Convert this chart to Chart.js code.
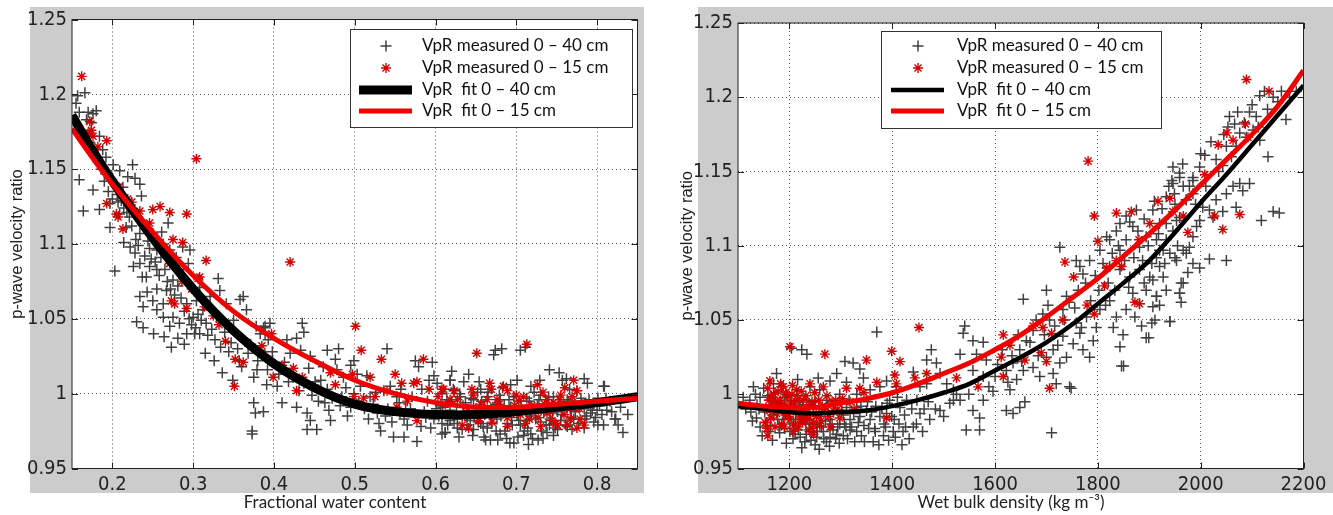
<!DOCTYPE html>
<html lang="en">
<head>
<meta charset="UTF-8">
<title>VpR vs water content and bulk density</title>
<script src="https://cdn.jsdelivr.net/npm/chart.js@4.4.1/dist/chart.umd.min.js"></script>
<style>
  html, body { margin: 0; padding: 0; background: #fff; }
  .panel { position: absolute; top: 0; }
</style>
</head>
<body>
<div class="panel" style="left:0"><canvas id="wcChart" width="666" height="515"></canvas></div>
<div class="panel" style="left:666px"><canvas id="dnChart" width="667" height="515"></canvas></div>

<script>
// shared axis ticks
const vTicks = [0.95, 1, 1.05, 1.1, 1.15, 1.2, 1.25];
const wcTicks = [0.2, 0.3, 0.4, 0.5, 0.6, 0.7, 0.8];
const dnTicks = [1200, 1400, 1600, 1800, 2000, 2200];

// left panel: fractional water content
const wcGray40 = [
  [0.157,1.199],[0.166,1.201],[0.155,1.194],[0.159,1.188],[0.170,1.188],[0.176,1.187],[0.180,1.189],[0.168,1.183],[0.174,1.181],
  [0.159,1.143],[0.164,1.122],[0.176,1.136],[0.184,1.123],[0.197,1.127],[0.188,1.163],[0.192,1.158],[0.184,1.172],[0.201,1.153],
  [0.209,1.149],[0.225,1.153],[0.219,1.145],[0.213,1.138],[0.228,1.144],[0.236,1.132],[0.234,1.140],[0.205,1.140],[0.197,1.111],
  [0.203,1.082],[0.209,1.120],[0.221,1.118],[0.217,1.111],[0.234,1.107],[0.228,1.094],[0.226,1.085],[0.234,1.087],[0.246,1.085],
  [0.242,1.078],[0.250,1.107],[0.261,1.108],[0.263,1.100],[0.269,1.114],[0.271,1.096],[0.255,1.096],[0.246,1.097],[0.255,1.083],
  [0.234,1.065],[0.238,1.058],[0.250,1.062],[0.255,1.056],[0.263,1.060],[0.267,1.069],[0.275,1.076],[0.283,1.083],[0.279,1.091],
  [0.287,1.098],[0.296,1.096],[0.294,1.087],[0.263,1.051],[0.271,1.045],[0.275,1.051],[0.283,1.047],[0.292,1.060],[0.300,1.051],
  [0.304,1.062],[0.308,1.071],[0.312,1.056],[0.292,1.040],[0.308,1.040],[0.316,1.047],[0.329,1.051],[0.321,1.065],[0.333,1.069],
  [0.331,1.077],[0.341,1.060],[0.350,1.049],[0.358,1.063],[0.362,1.065],[0.366,1.056],[0.378,1.045],[0.389,1.045],[0.395,1.047],
  [0.383,1.040],[0.289,1.033],[0.315,1.027],[0.326,1.022],[0.336,1.014],[0.349,1.009],[0.360,1.018],[0.368,1.027],[0.273,1.031],
  [0.302,1.040],[0.373,0.973],[0.801,0.979],[0.822,0.983],[0.809,1.005],[0.801,0.997],
  [0.162,1.176],[0.172,1.168],[0.178,1.160],[0.186,1.150],[0.190,1.142],[0.195,1.135],[0.200,1.130],[0.207,1.128],[0.214,1.124],
  [0.222,1.126],[0.182,1.155],[0.168,1.172],
  [0.206,1.133],[0.211,1.129],[0.218,1.121],[0.224,1.112],[0.229,1.103],[0.232,1.099],[0.240,1.092],[0.244,1.102],[0.248,1.090],
  [0.253,1.088],[0.258,1.079],[0.260,1.091],[0.265,1.083],[0.268,1.075],[0.272,1.070],[0.277,1.066],[0.281,1.072],[0.285,1.064],
  [0.289,1.055],[0.295,1.050],[0.298,1.046],[0.303,1.044],[0.306,1.053],[0.310,1.049],[0.318,1.039],[0.323,1.043],[0.327,1.036],
  [0.334,1.031],[0.339,1.041],[0.344,1.028],[0.347,1.034],[0.355,1.030],[0.357,1.022],[0.364,1.035],[0.371,1.033],[0.380,1.022],
  [0.392,1.016],[0.398,1.028],[0.406,1.013],[0.413,1.021],[0.418,1.008],[0.431,1.002],[0.447,0.999],[0.458,1.009],[0.463,0.994],
  [0.472,0.997],[0.482,0.992],[0.491,0.985],[0.505,0.995],[0.517,0.983],[0.526,1.001],[0.538,0.985],[0.546,0.981],[0.555,0.994],
  [0.563,0.990],[0.582,0.978],[0.588,0.984],[0.594,0.977],[0.601,0.990],[0.255,1.070],[0.243,1.068],[0.237,1.078],[0.222,1.098],
  [0.214,1.101],[0.230,1.048],[0.238,1.044],[0.251,1.040],[0.264,1.038],[0.281,1.037],
  [0.375,1.011],[0.375,0.994],[0.377,0.987],[0.387,0.988],[0.373,0.975],[0.387,1.044],[0.389,1.040],[0.393,1.036],[0.383,1.029],
  [0.389,1.025],[0.379,1.016],[0.391,1.006],[0.404,1.005],[0.410,0.994],[0.416,1.036],[0.428,1.037],[0.435,1.047],[0.437,1.041],
  [0.420,1.027],[0.433,1.029],[0.445,1.025],[0.443,1.017],[0.424,1.011],[0.437,1.007],[0.451,1.008],[0.428,0.991],[0.441,0.987],
  [0.445,0.982],[0.441,0.976],[0.453,0.976],[0.466,1.029],[0.461,1.018],[0.468,0.989],[0.470,0.982],[0.480,1.030],[0.476,1.023],
  [0.478,1.016],[0.486,1.011],[0.495,1.019],[0.499,1.022],[0.484,0.998],[0.495,0.991],[0.507,1.005],[0.499,1.000],[0.519,0.998],
  [0.528,0.987],[0.530,0.980],[0.532,0.975],[0.540,1.030],[0.536,1.002],[0.544,1.005],[0.552,0.998],[0.548,0.971],[0.561,0.971],
  [0.565,0.979],[0.561,0.983],[0.577,0.968],[0.575,1.022],[0.579,1.018],[0.596,1.021],[0.598,1.012],[0.592,1.009],[0.602,1.007],
  [0.608,1.000],[0.618,1.009],[0.623,1.002],[0.583,1.003],[0.598,0.983],[0.608,0.980],[0.618,0.982],[0.627,0.977],[0.612,0.974],
  [0.512,0.990],[0.523,0.993],[0.541,0.990],[0.556,0.987],[0.569,0.990],[0.586,0.988],[0.590,0.995],[0.571,0.998],[0.557,1.003],
  [0.515,1.012],[0.466,1.003],[0.455,0.995],[0.489,1.004],[0.503,1.013],
  [0.674,1.029],[0.682,1.030],[0.672,1.026],[0.705,1.029],[0.711,1.031],[0.641,1.013],[0.618,1.009],[0.635,1.008],[0.656,1.003],
  [0.701,1.009],[0.718,1.005],[0.753,1.014],[0.757,1.009],[0.784,1.010],[0.788,1.007],[0.808,1.005],[0.775,1.002],
  [0.612,0.974],[0.629,0.971],[0.647,0.976],[0.660,0.971],[0.668,0.969],[0.680,0.973],[0.697,0.967],[0.709,0.972],[0.718,0.973],
  [0.738,0.974],[0.751,0.976],[0.763,0.978],[0.784,0.977],[0.796,0.981],[0.808,0.979],[0.823,0.983],[0.623,0.980],[0.639,0.979],
  [0.656,0.980],[0.689,0.980],[0.705,0.979],[0.730,0.981],[0.771,0.983],[0.792,0.987],[0.800,0.989],[0.608,0.973],
  [0.614,0.996],[0.631,0.998],[0.647,0.996],[0.664,0.998],[0.680,0.996],[0.697,0.998],[0.713,0.997],[0.730,0.999],[0.746,0.998],
  [0.763,0.996],[0.780,0.997],[0.796,0.993],[0.618,0.989],[0.635,0.987],[0.651,0.988],[0.668,0.986],[0.684,0.987],[0.701,0.986],
  [0.718,0.988],[0.734,0.987],[0.751,0.988],[0.767,0.989],[0.784,0.990],[0.812,0.989],[0.627,0.983],[0.643,0.982],[0.676,0.983],
  [0.713,0.982],[0.742,0.983],[0.755,0.982],[0.660,0.992],[0.693,0.991],[0.726,0.992],[0.759,0.992],
  [0.622,1.003],[0.652,1.001],[0.683,1.004],[0.722,1.001],[0.766,1.003],[0.606,0.992],[0.637,0.994],[0.674,0.993],[0.716,0.995],
  [0.744,0.993],[0.772,0.994],[0.787,0.985],[0.633,0.976],[0.659,0.978],[0.686,0.975],[0.714,0.977],[0.741,0.979],[0.769,0.976],
  [0.694,0.984],[0.719,0.985],[0.648,0.985],[0.664,0.977],[0.677,0.969],[0.702,0.971],[0.727,0.969],[0.746,0.972],[0.816,0.995],
  [0.829,0.991],[0.838,0.986],
  [0.604,0.985],[0.609,0.991],[0.615,0.979],[0.620,0.995],[0.626,0.988],[0.630,1.000],[0.634,0.992],[0.639,0.985],[0.644,0.997],
  [0.646,0.972],[0.650,0.990],[0.653,0.981],[0.657,0.995],[0.661,0.986],[0.665,1.001],[0.669,0.980],[0.671,0.991],[0.675,0.975],
  [0.679,0.999],[0.681,0.985],[0.685,0.992],[0.688,0.970],[0.691,0.996],[0.695,0.979],[0.699,0.989],[0.703,0.982],[0.706,0.995],
  [0.710,0.975],[0.712,0.988],[0.717,0.992],[0.720,0.970],[0.724,0.983],[0.728,0.996],[0.731,0.975],[0.735,0.990],[0.737,0.979],
  [0.740,0.998],[0.745,0.987],[0.748,0.977],[0.752,0.992],[0.756,0.986],[0.761,0.979],[0.765,0.995],[0.768,0.984],[0.773,0.988],
  [0.777,0.980],[0.781,0.993],[0.785,0.983],[0.790,0.996],[0.794,0.989],[0.798,0.984],[0.803,0.992],[0.806,0.986],[0.811,0.997],
  [0.818,0.988],[0.826,0.979],[0.832,0.974],[0.662,0.969],[0.692,0.967],[0.715,0.966],[0.733,0.970],[0.654,1.008],[0.693,1.006],
  [0.729,1.009],[0.762,1.010],[0.741,1.016],[0.620,1.015]
];
const wcRed15 = [
  [0.162,1.212],[0.172,1.182],[0.174,1.176],[0.176,1.172],[0.170,1.174],[0.193,1.169],[0.195,1.147],[0.193,1.127],[0.205,1.120],
  [0.207,1.118],[0.213,1.110],[0.219,1.130],[0.234,1.122],[0.250,1.123],[0.259,1.125],[0.271,1.121],[0.292,1.120],[0.304,1.157],
  [0.246,1.114],[0.275,1.103],[0.287,1.101],[0.316,1.089],[0.273,1.062],[0.277,1.060],[0.271,1.087],[0.306,1.077],[0.308,1.078],
  [0.298,1.070],[0.292,1.057],[0.314,1.058],[0.351,1.005],[0.352,1.023],
  [0.420,1.088],[0.501,1.045],[0.508,1.029],[0.533,1.023],[0.585,1.023],[0.550,1.013],[0.397,1.040],[0.385,1.032],[0.387,1.026],
  [0.410,1.019],[0.424,1.017],[0.435,1.011],[0.399,1.011],[0.476,1.006],[0.497,1.013],[0.519,1.011],[0.499,0.998],[0.511,0.997],
  [0.525,0.998],[0.558,1.007],[0.573,1.007],[0.577,1.008],[0.592,1.003],[0.608,1.003],[0.623,1.002],[0.552,0.991],[0.577,0.982],
  [0.651,1.027],[0.713,1.033],[0.667,1.007],[0.669,1.003],[0.610,1.003],[0.647,0.999],[0.689,1.002],[0.726,1.006],[0.755,0.999],
  [0.771,1.009],[0.775,1.002],[0.709,0.998],[0.633,0.979],[0.641,0.977],[0.689,0.978],[0.730,0.978],[0.751,0.979],[0.763,0.979],
  [0.775,0.977],[0.779,0.983],[0.689,0.984],[0.705,0.986],[0.656,0.987],[0.672,0.988],[0.738,0.987],[0.759,0.986],[0.618,0.996],
  [0.656,0.993],[0.676,0.996],[0.738,0.996],[0.771,0.991],[0.640,0.990],[0.698,0.992],[0.722,0.989],[0.746,0.994],[0.664,0.996],
  [0.700,0.999],[0.733,1.001],[0.760,1.004],[0.682,0.990],[0.716,0.983],[0.744,0.982],[0.763,0.990],
  [0.603,0.998],[0.612,0.993],[0.627,0.996],[0.636,0.985],[0.645,1.003],[0.653,0.982],[0.661,0.990],[0.670,0.981],[0.679,0.993],
  [0.684,1.005],[0.693,0.987],[0.703,0.995],[0.711,0.980],[0.719,0.992],[0.727,0.984],[0.735,0.993],[0.742,0.988],[0.749,0.980],
  [0.754,0.996],[0.767,0.983],[0.769,0.998],[0.778,0.990],[0.784,0.979],[0.565,0.995],[0.540,1.002],[0.470,1.014],[0.455,1.003],
  [0.428,1.002],[0.362,1.021],[0.340,1.035],[0.332,1.046],[0.325,1.052],[0.286,1.075],[0.263,1.095],[0.224,1.128],[0.208,1.138],
  [0.182,1.165]
];
const wcFitX = [0.15, 0.175, 0.2, 0.25, 0.3, 0.35, 0.4, 0.45, 0.5, 0.55, 0.6, 0.65, 0.7, 0.75, 0.8, 0.85];
const wcFit40 = [1.186, 1.163, 1.142, 1.104, 1.070, 1.042, 1.020, 1.004, 0.993, 0.988, 0.986, 0.986, 0.988, 0.991, 0.994, 0.998];
const wcFit15 = [1.177, 1.158, 1.140, 1.108, 1.079, 1.055, 1.037, 1.022, 1.009, 1.000, 0.994, 0.991, 0.991, 0.993, 0.995, 0.997];

// right panel: wet bulk density
const dnGray40 = [
  [1110,0.998],[1130,1.005],[1123,0.996],[1136,0.984],[1143,0.978],[1156,0.981],[1165,0.991],[1175,1.014],[1169,1.007],[1185,1.005],
  [1195,1.000],[1201,0.975],[1211,0.973],[1221,0.971],[1230,0.968],[1240,0.975],[1253,0.971],[1266,0.975],[1279,0.971],[1292,0.973],
  [1305,0.972],[1331,0.975],[1363,0.968],[1383,0.972],[1402,0.975],[1421,0.975],[1441,0.978],[1224,1.030],[1234,1.027],[1204,1.031],
  [1279,1.009],[1292,1.014],[1311,1.008],[1308,1.022],[1324,1.021],[1337,1.017],[1344,1.011],[1370,1.042],[1357,1.003],[1376,1.005],
  [1389,1.009],[1408,1.005],[1395,0.996],[1415,0.991],[1428,0.996],[1441,1.015],[1454,1.005],[1467,1.007],[1476,1.030],[1467,1.023],
  [1486,1.021],[1493,1.014],[1506,1.007],[1519,1.003],[1532,1.027],[1538,1.041],[1541,1.046],[1557,1.036],[1577,1.035],[1564,1.027],
  [1583,1.023],[1557,1.016],[1577,1.012],[1532,0.996],[1557,0.989],[1577,0.996],[1570,0.984],[1544,0.976],[1570,0.976],[1493,0.989],
  [1473,0.983],[1454,0.987],[1519,0.996],[1596,1.002],[1600,1.012],
  [1143,0.998],[1162,0.996],[1182,0.994],[1201,0.991],[1221,0.989],[1240,0.987],[1259,0.985],[1279,0.983],[1298,0.980],[1318,0.983],
  [1337,0.985],[1357,0.983],[1376,0.985],[1389,0.987],[1234,0.996],[1272,0.996],[1311,0.991],[1331,0.991],[1350,0.989],[1253,0.978],
  [1285,0.976],[1318,0.976],[1208,0.980],[1188,0.983],[1169,0.986],[1240,1.005],[1259,1.003],[1298,1.000],[1331,1.000],
  [1150,1.004],[1172,1.001],[1190,0.998],[1215,0.999],[1226,0.993],[1247,0.992],[1265,0.990],[1286,0.988],[1305,0.986],[1325,0.987],
  [1345,0.979],[1366,0.977],[1384,0.980],[1404,0.983],[1424,0.986],[1212,0.983],[1232,0.980],[1262,0.978],[1290,0.970],[1310,0.978],
  [1340,0.972],[1250,0.966],[1272,0.968],[1160,0.975],[1180,0.978],[1137,0.993],[1125,0.988],[1196,0.987],[1216,1.010],[1256,1.011],
  [1352,0.995],[1368,0.992],[1390,0.994],[1410,0.998],[1448,0.996],[1462,0.990],
  [1115,0.990],[1128,0.982],[1134,1.000],[1141,0.990],[1147,0.972],[1152,0.988],[1158,0.999],[1163,0.979],[1167,0.969],[1173,0.994],
  [1177,0.983],[1181,0.974],[1186,0.990],[1191,0.977],[1194,0.967],[1199,0.984],[1203,0.996],[1207,0.970],[1213,0.988],[1217,0.976],
  [1220,0.995],[1224,0.964],[1228,0.983],[1233,0.973],[1237,0.990],[1242,0.969],[1245,0.980],[1250,0.995],[1254,0.975],[1258,0.963],
  [1262,0.987],[1267,0.970],[1270,0.982],[1275,0.992],[1278,0.965],[1283,0.980],[1288,0.993],[1294,0.978],[1297,0.967],[1302,0.989],
  [1307,0.980],[1313,0.970],[1316,0.996],[1321,0.978],[1327,0.968],[1334,0.981],[1339,0.992],[1346,0.968],[1354,0.977],[1360,0.988],
  [1367,0.975],[1374,0.966],[1380,0.991],[1387,0.978],[1393,0.969],[1399,0.985],[1406,0.971],[1413,0.980],[1419,0.966],[1426,0.978],
  [1433,0.970],[1438,0.990],[1447,0.980],[1459,0.975],[1470,0.995],[1484,0.990],[1500,0.985],[1512,0.994],[1525,1.000],[1549,1.000],
  [1655,1.064],[1700,1.070],[1726,1.099],[1693,1.054],[1706,1.050],[1674,1.043],[1661,1.036],[1648,1.030],[1635,1.021],[1622,1.016],
  [1629,1.003],[1642,1.010],[1655,1.016],[1674,1.018],[1687,1.012],[1713,1.014],[1726,1.021],[1719,1.007],[1745,1.005],[1739,1.025],
  [1752,1.034],[1765,1.041],[1771,1.030],[1784,1.025],[1791,1.036],[1797,1.045],[1804,1.057],[1778,1.052],[1758,1.048],[1732,1.039],
  [1713,1.030],[1700,1.025],[1622,0.989],[1635,0.987],[1648,0.991],[1658,0.995],[1710,0.974],[1748,1.004],
  [1765,1.086],[1771,1.081],[1758,1.090],[1784,1.090],[1804,1.097],[1817,1.106],[1823,1.104],[1836,1.110],[1843,1.115],[1855,1.120],
  [1862,1.116],[1875,1.124],[1868,1.113],[1855,1.104],[1843,1.097],[1881,1.099],[1894,1.106],[1823,1.086],[1843,1.084],[1862,1.079],
  [1881,1.084],[1901,1.079],[1920,1.086],[1914,1.092],[1927,1.097],[1933,1.104],[1946,1.110],[1959,1.119],[1972,1.131],[1946,1.142],
  [1946,1.153],[1959,1.146],[1985,1.144],[1933,1.133],[1907,1.124],[1920,1.115],[1966,1.097],[1962,1.075],[1959,1.068],[1940,1.049],
  [1894,1.038],[1843,1.032],[1849,1.040],[1830,1.045],[1836,1.052],[1855,1.057],[1881,1.061],[1907,1.059],[1914,1.066],[1933,1.070],
  [1894,1.070],[1868,1.068],[1823,1.063],[1846,1.019],[1732,1.057],[1739,1.066],[1899,1.038],[1911,1.050],[1850,1.019],
  [2115,1.201],[2124,1.204],[2141,1.200],[2157,1.204],[2173,1.200],[2186,1.204],[2166,1.185],[2095,1.190],[2108,1.187],[2056,1.187],
  [2053,1.180],[2066,1.182],[2076,1.176],[2050,1.167],[2069,1.167],[2089,1.173],[2102,1.178],[2115,1.171],[2131,1.160],[2008,1.161],
  [2030,1.158],[2043,1.154],[1998,1.153],[1959,1.149],[1944,1.144],[1966,1.140],[1985,1.146],[1949,1.135],[1972,1.131],[1985,1.135],
  [2004,1.126],[1998,1.117],[2017,1.124],[2030,1.131],[2050,1.135],[2076,1.142],[2095,1.142],[2082,1.137],[2063,1.140],[2069,1.126],
  [2043,1.123],[2024,1.119],[2118,1.117],[2141,1.123],[2153,1.122],[2017,1.091],[2050,1.090],[1998,1.085],[1978,1.099],[1972,1.095],
  [1953,1.090],[1940,1.095],[1920,1.097],[1927,1.079],[1907,1.077],[1966,1.075],[1959,1.068],[1914,1.066],[1920,1.060],[1962,1.062],
  [1940,1.049],[1985,1.106],[1914,1.104],[1992,1.113],[1953,1.117],[1933,1.115],
  [1588,1.005],[1605,1.020],[1614,1.030],[1625,1.008],[1633,1.026],[1645,1.040],[1652,1.022],[1668,1.035],[1680,1.050],[1684,1.026],
  [1696,1.040],[1703,1.060],[1716,1.046],[1722,1.033],[1735,1.050],[1744,1.062],[1755,1.058],[1762,1.070],[1768,1.045],[1776,1.075],
  [1786,1.063],[1795,1.080],[1802,1.070],[1810,1.088],[1815,1.060],[1820,1.075],[1828,1.095],[1833,1.070],[1840,1.100],[1852,1.090],
  [1860,1.072],[1870,1.092],[1878,1.110],[1887,1.090],[1890,1.118],[1898,1.100],[1905,1.088],[1910,1.130],[1918,1.108],[1925,1.125],
  [1930,1.088],[1938,1.140],[1950,1.128],[1955,1.100],[1965,1.155],[1978,1.140],[1990,1.128],[2000,1.162],[2010,1.140],[2020,1.170],
  [2035,1.150],[2045,1.175],[2060,1.160],[2072,1.190],[2085,1.183],[2100,1.195],[2112,1.180],[2130,1.192],[2150,1.197],[1890,1.075],
  [1872,1.052],[1885,1.046],[1905,1.048],[1950,1.092],[1975,1.082],[1985,1.088]
];
const dnRed15 = [
  [1201,1.032],[1269,1.027],[1350,1.023],[1399,1.029],[1415,1.022],[1452,1.045],[1405,1.013],[1370,1.008],[1408,1.007],[1467,1.014],
  [1444,1.011],[1567,1.005],[1525,1.011],[1389,0.984],
  [1162,1.009],[1153,0.981],[1156,0.977],[1169,1.000],[1182,0.996],[1195,0.991],[1208,0.989],[1221,0.986],[1234,0.984],[1247,0.981],
  [1259,0.979],[1175,0.987],[1188,1.005],[1214,1.003],[1240,1.007],[1266,1.005],[1311,1.004],[1337,1.004],[1285,0.989],[1298,0.984],
  [1162,0.989],[1227,0.996],[1201,0.983],[1279,0.978],[1170,0.993],[1185,0.980],[1196,0.998],[1210,0.994],[1218,0.978],[1230,0.990],
  [1244,0.995],[1252,0.987],[1178,1.002],[1205,1.000],[1160,0.996],[1192,0.986],[1225,0.981],[1264,0.992],[1290,0.996],[1238,0.976],
  [1155,0.990],[1158,1.004],[1164,0.984],[1166,0.998],[1172,0.978],[1176,0.995],[1180,0.990],[1183,1.007],[1187,0.993],[1190,0.978],
  [1193,1.001],[1198,0.985],[1202,0.994],[1206,1.006],[1209,0.979],[1213,0.990],[1216,0.997],[1220,0.983],[1223,1.002],[1228,0.987],
  [1232,0.999],[1236,0.983],[1241,0.993],[1245,0.977],[1249,1.001],[1253,0.985],[1257,0.996],[1261,0.982],[1268,0.990],[1273,0.999],
  [1277,0.985],[1283,0.995],[1294,0.990],[1303,0.997],[1318,0.995],[1326,0.990],[1345,1.001],[1158,0.972],[1207,0.975],[1247,0.973],
  [1781,1.157],[1793,1.120],[1836,1.122],[1865,1.123],[1917,1.130],[1940,1.132],[1800,1.103],[1736,1.089],[1753,1.079],[1813,1.073],
  [1817,1.085],[1836,1.090],[1846,1.086],[1901,1.115],[1880,1.104],[1946,1.123],[1966,1.120],[1975,1.109],[1872,1.062],[1881,1.061],
  [1779,1.060],[1793,1.054],[1732,1.050],[1674,1.046],[1693,1.045],[1710,1.041],[1616,1.040],[1629,1.033],[1612,1.025],[1658,1.023],
  [1690,1.028],[1700,1.022],[1616,1.012],[1706,1.004],
  [2089,1.212],[2133,1.204],[2087,1.182],[2051,1.176],[2063,1.171],[2034,1.168],[2092,1.173],[2008,1.148],[2027,1.120],[2043,1.111],
  [2076,1.121]
];
const dnFitX = [1100, 1150, 1200, 1250, 1300, 1350, 1400, 1450, 1500, 1550, 1600, 1650, 1700, 1750, 1800, 1850, 1900, 1950, 2000, 2050, 2100, 2150, 2200];
const dnFit40 = [0.992, 0.990, 0.988, 0.987, 0.988, 0.989, 0.992, 0.996, 1.001, 1.007, 1.016, 1.025, 1.035, 1.047, 1.061, 1.075, 1.090, 1.109, 1.129, 1.148, 1.168, 1.188, 1.208];
const dnFit15 = [0.994, 0.992, 0.991, 0.991, 0.994, 0.997, 1.001, 1.007, 1.014, 1.021, 1.030, 1.040, 1.052, 1.065, 1.078, 1.093, 1.108, 1.124, 1.141, 1.158, 1.175, 1.194, 1.218];

const tickFont = { family: "'Liberation Sans Narrow', 'DejaVu Sans Condensed', Arial, sans-serif", size: 20 };
const labelFont = "Lato, 'Open Sans', sans-serif";

const toXY = pts => pts.map(p => ({ x: p[0], y: p[1] }));
const zipXY = (xs, ys) => xs.map((x, i) => ({ x: x, y: ys[i] }));

// gray figure frame, box, inward ticks, x title and legend
const matlabLook = {
  id: 'matlabLook',
  beforeDraw(chart, args, o) {
    const { ctx, chartArea: a } = chart;
    ctx.save();
    ctx.fillStyle = '#fff';
    ctx.fillRect(0, 0, chart.width, chart.height);
    ctx.fillStyle = '#cccccc';
    ctx.fillRect(o.gray[0], o.gray[1], o.gray[2] - o.gray[0], o.gray[3] - o.gray[1]);
    ctx.fillStyle = '#fff';
    ctx.fillRect(a.left, a.top, a.right - a.left, a.bottom - a.top);
    ctx.restore();
  },
  afterDraw(chart, args, o) {
    const { ctx, chartArea: a } = chart;
    const xs = chart.scales.x, ys = chart.scales.y;
    ctx.save();
    ctx.strokeStyle = '#222';
    ctx.lineWidth = 1;
    ctx.beginPath();
    xs.ticks.forEach(t => {
      const px = Math.round(xs.getPixelForValue(t.value)) + 0.5;
      ctx.moveTo(px, a.bottom); ctx.lineTo(px, a.bottom - 6);
      ctx.moveTo(px, a.top); ctx.lineTo(px, a.top + 6);
    });
    ys.ticks.forEach(t => {
      const py = Math.round(ys.getPixelForValue(t.value)) + 0.5;
      ctx.moveTo(a.left, py); ctx.lineTo(a.left + 6, py);
      ctx.moveTo(a.right, py); ctx.lineTo(a.right - 6, py);
    });
    ctx.stroke();
    ctx.strokeRect(a.left, a.top, a.right - a.left, a.bottom - a.top);

    // x axis title, centred on the gray panel
    ctx.fillStyle = '#222';
    ctx.font = '17px ' + labelFont;
    ctx.textAlign = 'center';
    ctx.textBaseline = 'middle';
    ctx.fillText(o.xTitle, o.xTitleX, 503);

    // legend box
    const L = o.legend;
    ctx.fillStyle = '#fff';
    ctx.fillRect(L.box[0], L.box[1], L.box[2] - L.box[0], L.box[3] - L.box[1]);
    ctx.strokeStyle = '#333';
    ctx.lineWidth = 1;
    ctx.strokeRect(L.box[0] + 0.5, L.box[1] + 0.5, L.box[2] - L.box[0], L.box[3] - L.box[1]);
    chart.data.datasets.forEach((ds, i) => {
      const y = L.rows[i];
      ctx.strokeStyle = ds.borderColor;
      ctx.lineWidth = ds.borderWidth;
      ctx.beginPath();
      if (ds.showLine) {
        ctx.moveTo(L.line[0], y); ctx.lineTo(L.line[1], y);
      } else {
        const r = ds.pointRadius;
        ctx.moveTo(L.sym - r, y); ctx.lineTo(L.sym + r, y);
        ctx.moveTo(L.sym, y - r); ctx.lineTo(L.sym, y + r);
        if (ds.pointStyle === 'star') {
          const d = r * 0.707;
          ctx.moveTo(L.sym - d, y - d); ctx.lineTo(L.sym + d, y + d);
          ctx.moveTo(L.sym - d, y + d); ctx.lineTo(L.sym + d, y - d);
        }
      }
      ctx.stroke();
      ctx.fillStyle = '#111';
      ctx.font = '17px ' + labelFont;
      ctx.textAlign = 'left';
      ctx.textBaseline = 'middle';
      ctx.fillText(ds.label, L.text, y);
    });
    ctx.restore();
  }
};

function makePanel(id, c) {
  const cv = document.getElementById(id);
  return new Chart(cv, {
    type: 'scatter',
    data: {
      datasets: [
        { label: 'VpR measured 0 \u2013 40 cm', data: toXY(c.gray), pointStyle: 'cross', pointRadius: 5.5,
          borderColor: '#404040', backgroundColor: '#404040', borderWidth: 1.5, order: 3 },
        { label: 'VpR measured 0 \u2013 15 cm', data: toXY(c.red), pointStyle: 'star', pointRadius: 5,
          borderColor: '#d40000', backgroundColor: '#d40000', borderWidth: 1.4, order: 2 },
        { label: 'VpR  fit 0 \u2013 40 cm', data: zipXY(c.fitX, c.fit40), showLine: true, pointRadius: 0,
          borderColor: '#000', borderWidth: c.w40, tension: 0.4, order: 1 },
        { label: 'VpR  fit 0 \u2013 15 cm', data: zipXY(c.fitX, c.fit15), showLine: true, pointRadius: 0,
          borderColor: '#f00000', borderWidth: 5, tension: 0.4, order: 0 }
      ]
    },
    options: {
      responsive: false,
      animation: false,
      events: [],
      layout: { padding: { left: 0, top: c.top, right: cv.width - 637.5, bottom: 0 } },
      scales: {
        x: {
          type: 'linear', min: c.xMin, max: c.xMax,
          afterBuildTicks: s => { s.ticks = c.xTicks.map(v => ({ value: v })); },
          afterFit: s => { s.height = 515 - 468.5; },
          grid: { color: '#555', lineWidth: 1, drawTicks: false },
          border: { display: false, dash: [1, 3] },
          ticks: { font: tickFont, color: '#222', padding: 4, maxRotation: 0, autoSkip: false, callback: v => String(v) }
        },
        y: {
          type: 'linear', min: 0.95, max: 1.25,
          afterBuildTicks: s => { s.ticks = vTicks.map(v => ({ value: v })); },
          afterFit: s => { s.width = 72; },
          grid: { color: '#555', lineWidth: 1, drawTicks: false },
          border: { display: false, dash: [1, 3] },
          ticks: { font: tickFont, color: '#222', padding: 5, autoSkip: false, callback: v => String(v) },
          title: { display: true, text: 'p-wave velocity ratio', color: '#222',
            font: { family: "'Liberation Sans', Arial, sans-serif", size: 16.5 }, padding: { top: c.yTitlePad, bottom: 0 } }
        }
      },
      plugins: {
        legend: { display: false },
        tooltip: { enabled: false },
        matlabLook: { gray: c.gray4, xTitle: c.xTitle, xTitleX: c.xTitleX, legend: c.legend }
      }
    },
    plugins: [matlabLook]
  });
}

makePanel('wcChart', {
  gray: wcGray40, red: wcRed15, fitX: wcFitX, fit40: wcFit40, fit15: wcFit15, w40: 9,
  xMin: 0.15, xMax: 0.85, xTicks: wcTicks, top: 19.5, yTitlePad: 8,
  gray4: [30, 7, 644, 493], xTitle: 'Fractional water content', xTitleX: 335,
  legend: { box: [350, 29, 632, 127], sym: 386, line: [359, 412], text: 422, rows: [46, 68, 90, 111] }
});

makePanel('dnChart', {
  gray: dnGray40, red: dnRed15, fitX: dnFitX, fit40: dnFit40, fit15: dnFit15, w40: 4.5,
  xMin: 1100, xMax: 2200, xTicks: dnTicks, top: 23, yTitlePad: 12,
  gray4: [32, 7, 667, 493], xTitle: 'Wet bulk density (kg m\u207B\u00B3)', xTitleX: 345,
  legend: { box: [215, 31, 495, 128], sym: 252, line: [225, 278], text: 291, rows: [46, 68, 90, 111] }
});
</script>
</body>
</html>
